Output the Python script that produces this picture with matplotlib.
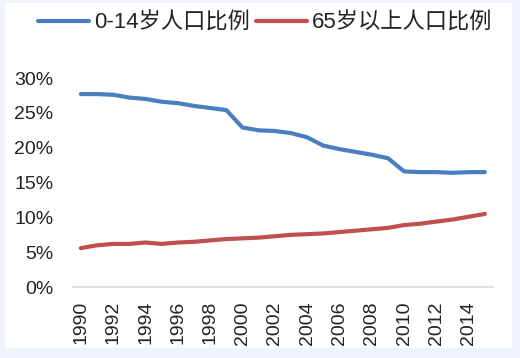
import matplotlib
matplotlib.use("Agg")
import matplotlib.pyplot as plt
from matplotlib.patches import Rectangle

plt.rcParams['font.family'] = ['Liberation Sans', 'Noto Sans CJK SC', 'DejaVu Sans']

years = list(range(1990, 2016))
young = [27.7, 27.7, 27.6, 27.2, 27.0, 26.6, 26.4, 26.0, 25.7, 25.4,
         22.9, 22.5, 22.4, 22.1, 21.5, 20.3, 19.8, 19.4, 19.0, 18.5,
         16.6, 16.5, 16.5, 16.4, 16.5, 16.5]
old = [5.6, 6.0, 6.2, 6.2, 6.4, 6.2, 6.4, 6.5, 6.7, 6.9,
       7.0, 7.1, 7.3, 7.5, 7.6, 7.7, 7.9, 8.1, 8.3, 8.5,
       8.9, 9.1, 9.4, 9.7, 10.1, 10.5]
labels = ['0-14岁人口比例', '65岁以上人口比例']
yticks = [0, 5, 10, 15, 20, 25, 30]

fig = plt.figure(figsize=(5.2, 3.58), dpi=100, facecolor='#EEF4FA')
# white panel inside the pale border
fig.patches.append(Rectangle((5 / 520, 10 / 358), 507 / 520, 345 / 358,
                             transform=fig.transFigure, facecolor='white',
                             edgecolor='none', zorder=-5))
ax = fig.add_axes([0.140, 0.198, 0.808, 0.584])
ax.set_facecolor('none')

ax.plot(years, young, color='#4A7EBF', lw=3, label=labels[0], solid_capstyle='round')
ax.plot(years, old, color='#C0504D', lw=3, label=labels[1], solid_capstyle='round')

ax.set_xlim(1989.5, 2015.5)
ax.set_ylim(0, 30)
ax.set_yticks(yticks)
ax.set_yticklabels([f'{v}%' for v in yticks])
ax.set_xticks(years[::2])
ax.set_xticklabels([str(y) for y in years[::2]], rotation=90)
ax.tick_params(axis='y', length=0, pad=14, labelsize=14, labelcolor='#222222')
ax.tick_params(axis='x', length=0, pad=10, labelsize=14, labelcolor='#222222')

for s in ['top', 'right', 'left']:
    ax.spines[s].set_visible(False)
ax.spines['bottom'].set_color('#D9D9D9')
ax.spines['bottom'].set_linewidth(1.2)

fig.legend(loc='center', bbox_to_anchor=(0.51, 0.936), ncol=2, frameon=False,
           fontsize=16, handlelength=2.3, handletextpad=0.2, columnspacing=0.3,
           labelcolor='#222222')

fig.savefig('out.png', dpi=100)
